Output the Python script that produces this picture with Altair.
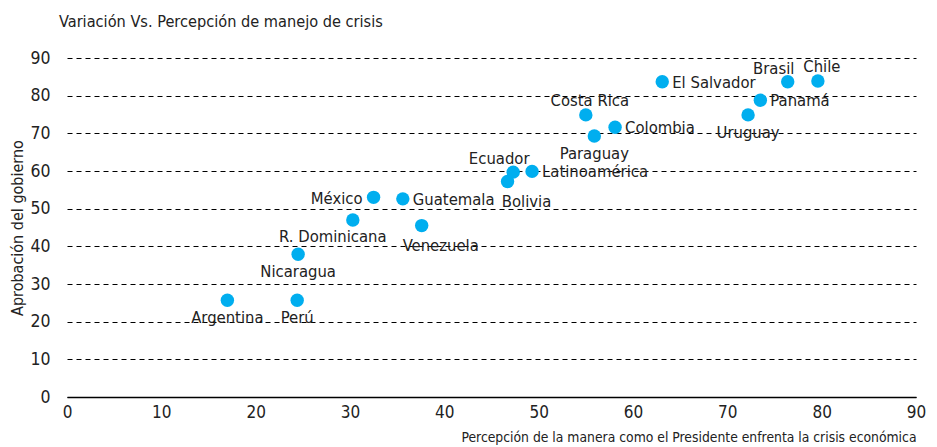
import altair as alt
import pandas as pd

countries = ["Argentina", "Perú", "Nicaragua", "R. Dominicana", "México", "Guatemala",
             "Venezuela", "Bolivia", "Ecuador", "Latinoamérica", "Costa Rica", "Paraguay",
             "Colombia", "El Salvador", "Uruguay", "Panamá", "Brasil", "Chile"]
percepcion = [17.0, 24.4, 24.5, 30.3, 32.5, 35.6, 37.6, 46.7, 47.3, 49.3, 55.0, 55.9,
              58.1, 63.1, 72.2, 73.5, 76.4, 79.6]
aprobacion = [25.7, 25.7, 37.9, 47.0, 53.0, 52.6, 45.5, 57.2, 59.7, 59.9, 74.9, 69.3,
              71.6, 83.7, 74.9, 78.8, 83.7, 83.9]
placement = ["b", "b", "b", "bl", "l", "r", "br", "br", "al", "r", "a", "b",
             "r", "r", "b", "r", "al", "a"]

df = pd.DataFrame({"pais": countries, "x": percepcion, "y": aprobacion, "pos": placement})

FONT = "DejaVu Sans Condensed, sans-serif"
TXT = "#222222"

x_enc = alt.X("x:Q", scale=alt.Scale(domain=[0, 90], nice=False),
              axis=alt.Axis(values=list(range(0, 91, 10)), title="Percepción de la manera como el Presidente enfrenta la crisis económica",
                            grid=False, ticks=False, tickSize=0, domain=True, domainColor="#000000",
                            domainWidth=1.5, labelFont=FONT, labelFontSize=17, labelColor=TXT,
                            labelPadding=7, titleFont=FONT, titleFontSize=13.8, titleFontWeight="normal",
                            titleColor=TXT, titleAnchor="end", titleAlign="right", titlePadding=10,
                            labelFlush=False))
y_enc = alt.Y("y:Q", scale=alt.Scale(domain=[0, 90], nice=False),
              axis=alt.Axis(values=list(range(0, 91, 10)), title="Aprobación del gobierno",
                            grid=True, gridColor="#000000", gridDash=[5, 4], gridWidth=1,
                            ticks=False, tickSize=0, domain=False, labelFont=FONT, labelFontSize=17.5,
                            labelColor=TXT, labelPadding=17, titleFont=FONT, titleFontSize=16,
                            titleFontWeight="normal", titleColor=TXT, titlePadding=4))

points = alt.Chart(df).mark_circle(size=180, color="#00AEEF", opacity=1).encode(x=x_enc, y=y_enc)

styles = {
    "b": ("center", 0, 23),
    "bl": ("center", -20, 22),
    "br": ("center", 19, 25),
    "a": ("center", 4, -9),
    "al": ("center", -14, -8),
    "r": ("left", 10, 6),
    "l": ("right", -11, 7),
}

layers = [points]
for key, (align, dx, dy) in styles.items():
    layers.append(
        alt.Chart(df).transform_filter(alt.datum.pos == key).mark_text(
            align=align, baseline="alphabetic", dx=dx, dy=dy, font=FONT, fontSize=16.5, color=TXT
        ).encode(x=x_enc, y=y_enc, text="pais:N")
    )

chart = alt.layer(*layers).properties(
    width=849, height=339,
    title=alt.TitleParams("Variación Vs. Percepción de manejo de crisis", anchor="start", frame="group",
                          dx=-8, offset=19, font=FONT, fontSize=16.2, fontWeight="normal", color=TXT),
    autosize=alt.AutoSizeParams(type="none"),
    padding={"left": 59, "top": 50, "right": 13, "bottom": 48},
).configure_view(stroke=None)

chart.save("out.html", embed_options={"renderer": "svg", "actions": False})
